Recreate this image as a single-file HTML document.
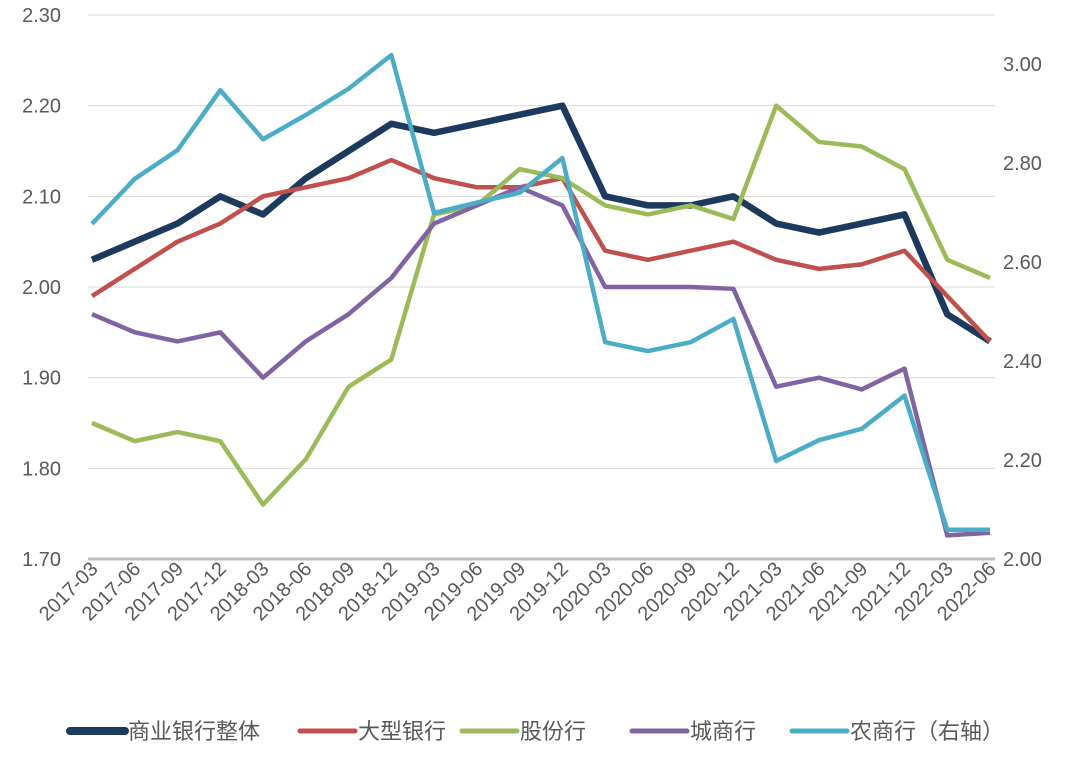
<!DOCTYPE html>
<html><head><meta charset="utf-8"><style>
body{margin:0;background:#fff;}
svg text{font-family:"Liberation Sans","Noto Sans CJK SC",sans-serif;fill:#595959;}
</style></head><body>
<svg id="chart" width="1080" height="755"></svg>
<script>
const categories=["2017-03","2017-06","2017-09","2017-12","2018-03","2018-06","2018-09","2018-12","2019-03","2019-06","2019-09","2019-12","2020-03","2020-06","2020-09","2020-12","2021-03","2021-06","2021-09","2021-12","2022-03","2022-06"];
const overall=[2.03,2.05,2.07,2.10,2.08,2.12,2.15,2.18,2.17,2.18,2.19,2.20,2.10,2.09,2.09,2.10,2.07,2.06,2.07,2.08,1.97,1.94];
const large=[1.99,2.02,2.05,2.07,2.10,2.11,2.12,2.14,2.12,2.11,2.11,2.12,2.04,2.03,2.04,2.05,2.03,2.02,2.025,2.04,1.99,1.94];
const jointStock=[1.85,1.83,1.84,1.83,1.76,1.81,1.89,1.92,2.08,2.09,2.13,2.12,2.09,2.08,2.09,2.075,2.20,2.16,2.155,2.13,2.03,2.01];
const cityBanks=[1.97,1.95,1.94,1.95,1.90,1.94,1.97,2.01,2.07,2.09,2.11,2.09,2.00,2.00,2.00,1.998,1.89,1.90,1.887,1.91,1.726,1.729];
const ruralBanks=[2.677,2.768,2.826,2.947,2.848,2.897,2.95,3.018,2.699,2.72,2.74,2.81,2.438,2.42,2.438,2.485,2.198,2.24,2.263,2.33,2.059,2.059];
const leftTicks=["1.70","1.80","1.90","2.00","2.10","2.20","2.30"];
const rightTicks=["2.00","2.20","2.40","2.60","2.80","3.00"];
const seriesNames=["商业银行整体","大型银行","股份行","城商行","农商行（右轴）"];

const NS="http://www.w3.org/2000/svg";
const svg=document.getElementById('chart');
function mk(t,a,p){const e=document.createElementNS(NS,t);for(const k in a)e.setAttribute(k,a[k]);(p||svg).appendChild(e);return e;}
const X0=88,X1=995,yTop=15,yBot=559;
const x=i=>92+i*(990-92)/(categories.length-1);
const yL=v=>yBot-(v-1.70)/(0.60)*(yBot-yTop);
const yR=v=>yBot-(v-2.00)/0.2*99;

leftTicks.forEach(t=>{const v=parseFloat(t);const g=mk('line',{x1:X0,x2:X1,y1:yL(v),y2:yL(v),stroke:v===1.7?'#bfbfbf':'#d9d9d9','stroke-width':v===1.7?3:1});


const tx=mk('text',{x:61,y:yL(v)+7,'font-size':20,'text-anchor':'end'});tx.textContent=t;

});
rightTicks.forEach(t=>{const v=parseFloat(t);const tx=mk('text',{x:1003,y:yR(v)+7,'font-size':20});tx.textContent=t;

});
categories.forEach((c,i)=>{const tx=mk('text',{x:0,y:0,'font-size':20,'text-anchor':'end',transform:`translate(${x(i)+7},${570}) rotate(-45)`});tx.textContent=c;

});

const series=[[overall,'#1b3a5e',6.5,yL,'line-overall'],[large,'#c0504d',4.5,yL,'line-large-banks'],[jointStock,'#9bbb59',4.5,yL,'line-joint-stock'],[cityBanks,'#8064a2',4.5,yL,'line-city-banks'],[ruralBanks,'#4bacc6',4.5,yR,'line-rural-banks']];
series.forEach(([d,col,w,f,n])=>{const p=mk('polyline',{points:d.map((v,i)=>x(i)+','+f(v)).join(' '),fill:'none',stroke:col,'stroke-width':w,'stroke-linejoin':'round'});

});

const lx=[70,300,462,632,792];
seriesNames.forEach((n,i)=>{const g=mk('g',{});


mk('line',{x1:lx[i],x2:lx[i]+55,y1:731,y2:731,stroke:series[i][1],'stroke-width':i===0?8:5,'stroke-linecap':'round'},g);
const t=mk('text',{x:lx[i]+58,y:739,'font-size':22},g);t.textContent=n;});
</script>
</body></html>
